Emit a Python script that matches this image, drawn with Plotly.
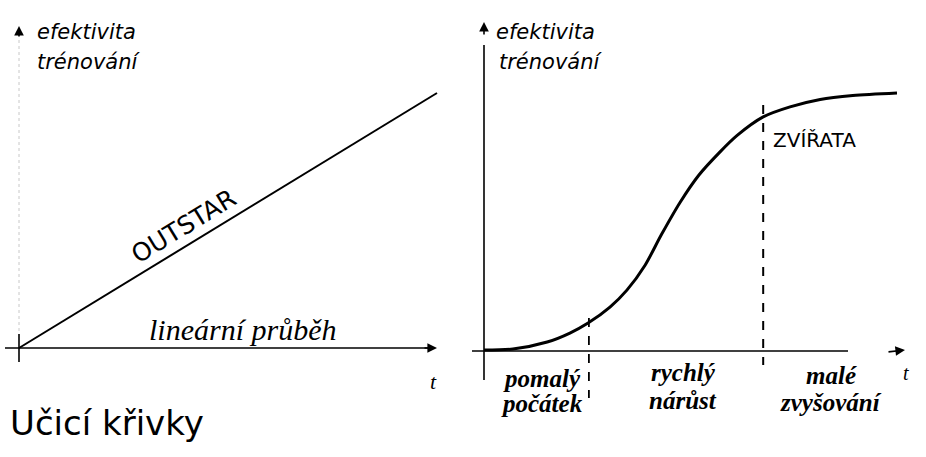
import plotly.graph_objects as go

W, H = 926, 457

# Left panel: linear learning curve (OUTSTAR)
linear_t = [0, 10]
linear_eff = [0, 10]

# Right panel: S-shaped learning curve
sig_t = [0, 0.70, 1.53, 2.08, 2.52, 3.05, 3.46, 3.90, 4.30, 4.75, 5.20,
         5.71, 6.13, 6.76, 7.41, 8.14, 8.93, 10]
sig_eff = [0, 0.04, 0.31, 0.66, 1.05, 1.67, 2.33, 3.30, 4.50, 5.75, 6.80,
           7.70, 8.35, 9.07, 9.46, 9.75, 9.90, 10]

# Boundaries between the three phases of the S-curve
phase_bounds = [2.54, 6.76]
phase_labels = [("pomalý", "počátek"), ("rychlý", "nárůst"), ("malé", "zvyšování")]

AXIS_LABEL = ("efektivita", "trénování")
TITLE = "Učicí křivky"


def px(x):
    return x / W


def py(y):
    return 1 - y / H


def rng(p0, p1, d0, d1, v0=0.0, v1=10.0):
    s = (v1 - v0) / (p1 - p0)
    return [v0 + (d0 - p0) * s, v0 + (d1 - p0) * s]


fig = go.Figure()
fig.add_trace(go.Scatter(x=linear_t, y=linear_eff, mode="lines",
                         line=dict(color="black", width=2),
                         xaxis="x", yaxis="y", hoverinfo="skip"))
fig.add_trace(go.Scatter(x=sig_t, y=sig_eff, mode="lines",
                         line=dict(color="black", width=3, shape="spline", smoothing=0.8),
                         xaxis="x2", yaxis="y2", hoverinfo="skip"))

ax_common = dict(visible=False, fixedrange=True)
fig.update_layout(
    width=W, height=H,
    margin=dict(l=0, r=0, t=0, b=0),
    paper_bgcolor="white", plot_bgcolor="white",
    showlegend=False,
    xaxis=dict(domain=[0, 463 / W], range=rng(19, 437, 0, 463), **ax_common),
    yaxis=dict(domain=[0, 1], range=rng(H - 348, H - 93, 0, H), **ax_common),
    xaxis2=dict(domain=[463 / W, 1], range=rng(484, 897, 463, W), anchor="y2", **ax_common),
    yaxis2=dict(domain=[0, 1], range=rng(H - 350, H - 93, 0, H), anchor="x2", **ax_common),
)

shapes = []
line_k = dict(color="black", width=1.6)
# left axes
shapes.append(dict(type="line", xref="paper", yref="paper",
                   x0=px(5), x1=px(432), y0=py(348), y1=py(348), line=line_k))
shapes.append(dict(type="line", xref="paper", yref="paper",
                   x0=px(19), x1=px(19), y0=py(334), y1=py(362), line=line_k))
shapes.append(dict(type="line", xref="paper", yref="paper",
                   x0=px(19), x1=px(19), y0=py(40), y1=py(334),
                   line=dict(color="#c8c8c8", width=1, dash="dot")))
# right axes
shapes.append(dict(type="line", xref="paper", yref="paper",
                   x0=px(484), x1=px(484), y0=py(45), y1=py(380), line=line_k))
shapes.append(dict(type="line", xref="paper", yref="paper",
                   x0=px(472), x1=px(848), y0=py(351), y1=py(351), line=line_k))
# phase boundaries
shapes.append(dict(type="line", xref="x2", yref="paper",
                   x0=phase_bounds[0], x1=phase_bounds[0], y0=py(318), y1=py(398),
                   line=dict(color="black", width=1.8, dash="dash")))
shapes.append(dict(type="line", xref="x2", yref="paper",
                   x0=phase_bounds[1], x1=phase_bounds[1], y0=py(105), y1=py(365),
                   line=dict(color="black", width=2, dash="dash")))
fig.update_layout(shapes=shapes)

ann = []


def txt(x, y, s, size, xanchor="center", angle=0, family="DejaVu Sans", style="normal", weight="normal"):
    ann.append(dict(x=px(x), y=py(y), xref="paper", yref="paper", text=s, showarrow=False,
                    xanchor=xanchor, yanchor="middle", textangle=angle,
                    font=dict(family=family, size=size, color="black", style=style, weight=weight)))


def arrow(x, y, dx, dy):
    ann.append(dict(x=px(x), y=py(y), xref="paper", yref="paper", text="", showarrow=True,
                    ax=dx, ay=dy, arrowhead=2, arrowsize=1.2, arrowwidth=1.6, arrowcolor="black"))


arrow(437, 348, -14, 0)
arrow(19, 26, 0, 12)
arrow(905, 350, -18, 2)
arrow(484, 22, 0, 14)

txt(35, 32, AXIS_LABEL[0], 21, "left", style="italic")
txt(35, 62, AXIS_LABEL[1], 21, "left", style="italic")
txt(494, 32, AXIS_LABEL[0], 21, "left", style="italic")
txt(497, 62, AXIS_LABEL[1], 21, "left", style="italic")

txt(183, 226, "OUTSTAR", 25, angle=-31.4)
txt(243, 329, "lineární průběh", 30, family="Liberation Serif", style="italic")
txt(433, 381, "t", 22, family="Liberation Serif", style="italic")
txt(8, 423, TITLE, 34, "left")

centers = [(542, 378, 403), (683, 372, 400), (831, 375, 402)]
for (a, b), (cx, y1, y2) in zip(phase_labels, centers):
    txt(cx, y1, a, 25, family="Liberation Serif", style="italic", weight="bold")
    txt(cx, y2, b, 25, family="Liberation Serif", style="italic", weight="bold")
txt(906, 373, "t", 20, family="Liberation Serif", style="italic")
txt(771, 140, "ZVÍŘATA", 20, "left")

fig.update_layout(annotations=ann)
fig.write_html("out.html")
